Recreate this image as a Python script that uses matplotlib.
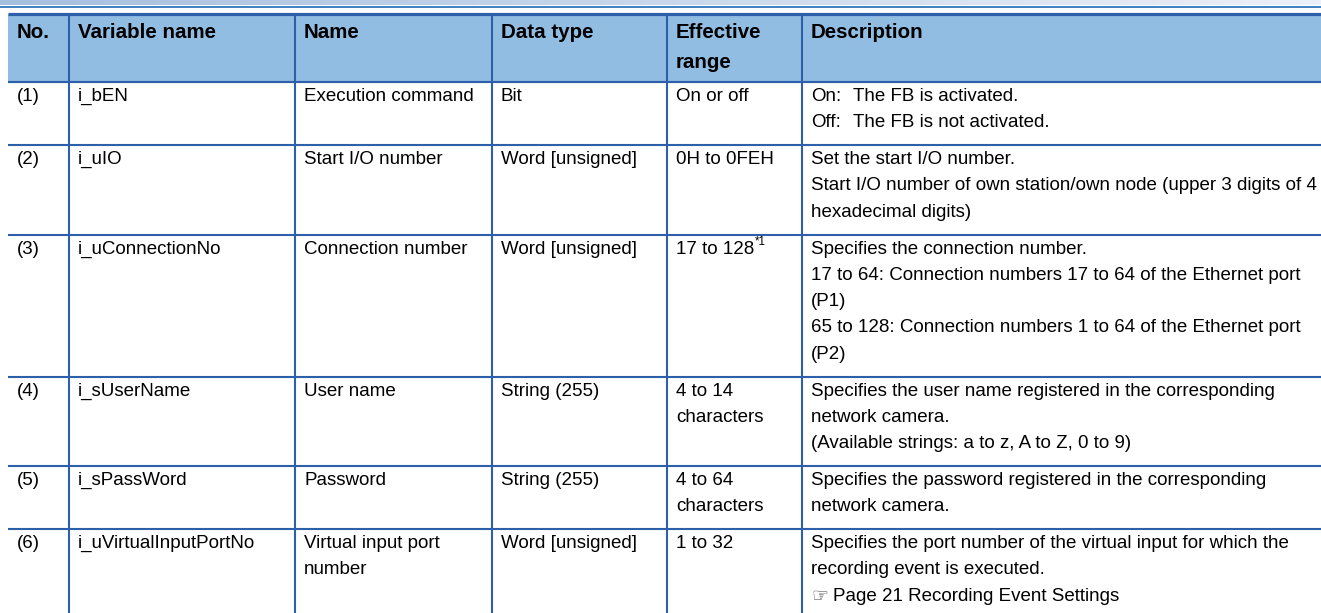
import numpy as np
import matplotlib
matplotlib.use("Agg")
import matplotlib.pyplot as plt

# ---- data ----
headers = ["No.", "Variable name", "Name", "Data type", "Effective\nrange", "Description"]
numbers = ["(1)", "(2)", "(3)", "(4)", "(5)", "(6)"]
variable_names = ["i_bEN", "i_uIO", "i_uConnectionNo", "i_sUserName", "i_sPassWord", "i_uVirtualInputPortNo"]
names = ["Execution command", "Start I/O number", "Connection number", "User name", "Password",
         "Virtual input port\nnumber"]
data_types = ["Bit", "Word [unsigned]", "Word [unsigned]", "String (255)", "String (255)", "Word [unsigned]"]
effective_ranges = ["On or off", "0H to 0FEH", "17 to 128", "4 to 14\ncharacters", "4 to 64\ncharacters", "1 to 32"]
range_notes = ["", "", "*1", "", "", ""]
descriptions = [
    "On:\tThe FB is activated.\nOff:\tThe FB is not activated.",
    "Set the start I/O number.\nStart I/O number of own station/own node (upper 3 digits of 4\nhexadecimal digits)",
    "Specifies the connection number.\n17 to 64: Connection numbers 17 to 64 of the Ethernet port\n(P1)\n65 to 128: Connection numbers 1 to 64 of the Ethernet port\n(P2)",
    "Specifies the user name registered in the corresponding\nnetwork camera.\n(Available strings: a to z, A to Z, 0 to 9)",
    "Specifies the password registered in the corresponding\nnetwork camera.",
    "Specifies the port number of the virtual input for which the\nrecording event is executed.\n\u261e Page 21 Recording Event Settings",
]

# ---- layout ----
W, H = 1321, 613
fig = plt.figure(figsize=(W / 100, H / 100), dpi=100)
ax = fig.add_axes([0, 0, 1, 1])
ax.set_xlim(0, W)
ax.set_ylim(H, 0)
ax.axis("off")

FONT = ["Liberation Sans", "DejaVu Sans"]
LINE = "#2E5FAA"
HEAD_BG = "#92BDE3"
body_fs = 13.5
head_fs = 14.8

col_x = [8, 69, 295, 492, 667, 802, W]
pad_x = 9
head_top, head_bot = 14, 82
lh = 26.3
pad_y = 10.5

# top gradient strip
grad = np.linspace(0, 1, 256)[None, :]
c0 = np.array([166, 191, 222]) / 255
c1 = np.array([236, 240, 248]) / 255
img = c0[None, None, :] * (1 - grad[..., None]) + c1[None, None, :] * grad[..., None]
ax.imshow(img, extent=[0, W, 5.5, 0], aspect="auto", zorder=0)
ax.plot([0, W], [6.5, 6.5], color="#1F6BB5", lw=1.2, solid_capstyle="butt")

# header background
ax.add_patch(plt.Rectangle((col_x[0], head_top), W - col_x[0], head_bot - head_top,
                           facecolor=HEAD_BG, edgecolor="none", zorder=1))
ax.plot([col_x[0], W], [head_top, head_top], color=LINE, lw=2.3, solid_capstyle="butt", zorder=3)

for i, h in enumerate(headers):
    for j, line in enumerate(h.split("\n")):
        ax.text(col_x[i] + pad_x, head_top + 18 + j * 30, line, fontsize=head_fs,
                fontweight="bold", family=FONT, va="center", ha="left", zorder=4)

# rows
columns = [numbers, variable_names, names, data_types, effective_ranges, descriptions]
y = head_bot
for r in range(len(numbers)):
    nlines = max(len(str(c[r]).split("\n")) for c in columns)
    ax.plot([col_x[0], W], [y, y], color=LINE, lw=1.5, solid_capstyle="butt", zorder=3)
    for ci, col in enumerate(columns):
        for j, line in enumerate(col[r].split("\n")):
            ty = y + pad_y + 4 + j * lh
            if "\t" in line:
                a, b = line.split("\t")
                ax.text(col_x[ci] + pad_x, ty, a, fontsize=body_fs, family=FONT, va="center", zorder=4)
                ax.text(col_x[ci] + pad_x + 42, ty, b, fontsize=body_fs, family=FONT, va="center", zorder=4)
            elif line.startswith("\u261e"):
                t = ax.text(col_x[ci] + pad_x, ty, "\u261e", fontsize=body_fs, family=["DejaVu Sans"],
                            color="#555555", va="center", zorder=4)
                ax.text(col_x[ci] + pad_x + 22, ty, line[1:].strip(), fontsize=body_fs, family=FONT,
                        va="center", zorder=4)
            else:
                t = ax.text(col_x[ci] + pad_x, ty, line, fontsize=body_fs, family=FONT, va="center", zorder=4)
                if ci == 4 and j == 0 and range_notes[r]:
                    fig.canvas.draw()
                    bb = t.get_window_extent()
                    x_end = ax.transData.inverted().transform((bb.x1, bb.y0))[0]
                    ax.text(x_end + 1, ty - 7, range_notes[r], fontsize=body_fs * 0.62,
                            family=FONT, va="center", zorder=4)
    y += pad_y + nlines * lh

# vertical lines
for x in col_x[1:-1]:
    ax.plot([x, x], [head_top, H], color=LINE, lw=1.5, solid_capstyle="butt", zorder=3)
ax.plot([col_x[0], W], [head_bot, head_bot], color=LINE, lw=1.5, solid_capstyle="butt", zorder=3)

fig.savefig("out.png", dpi=100)
